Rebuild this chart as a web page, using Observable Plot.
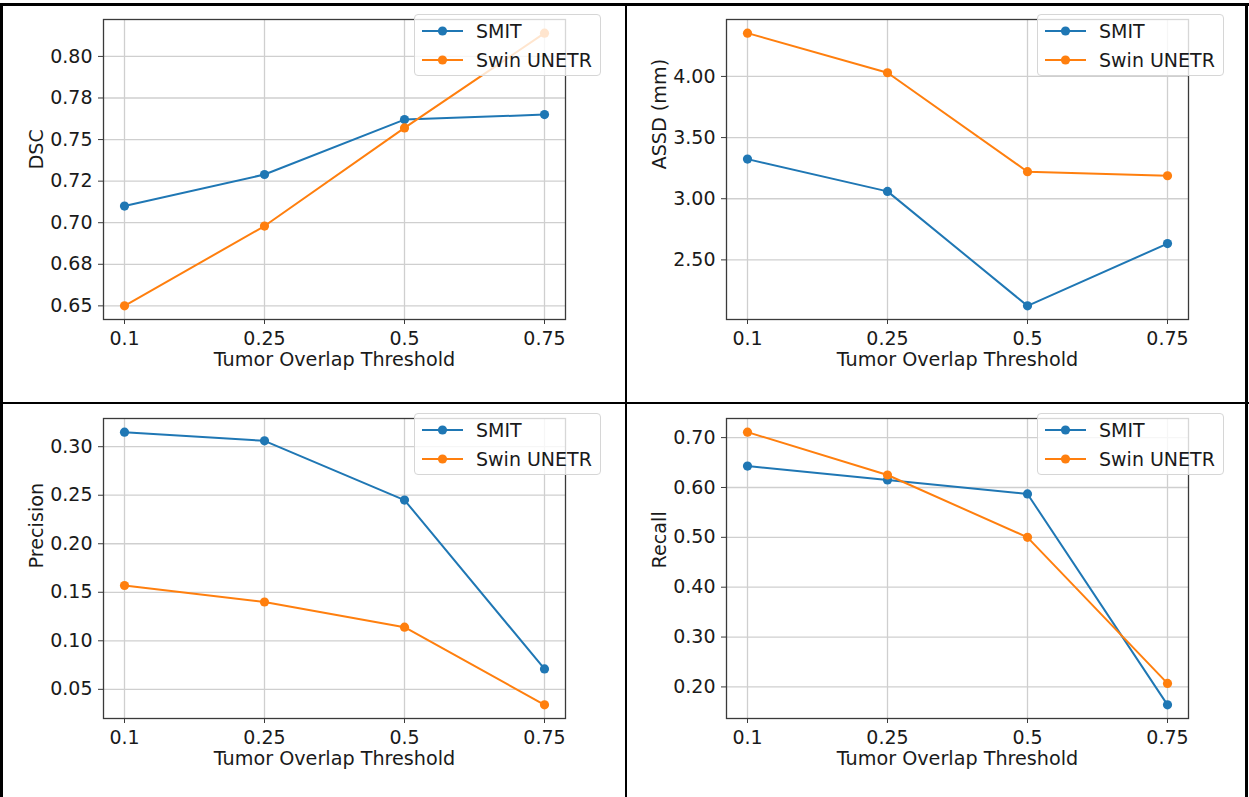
<!DOCTYPE html>
<html><head><meta charset="utf-8">
<script src="https://cdn.jsdelivr.net/npm/d3@7"></script>
<script src="https://cdn.jsdelivr.net/npm/@observablehq/plot@0.6"></script>
<style>
body{margin:0;background:#fff;}
#root{position:relative;width:1249px;height:797px;overflow:hidden;font-family:"DejaVu Sans",sans-serif;background:#fff;}
.panel{position:absolute;width:620px;height:398px;}
.panel svg{position:absolute;left:0;top:0;}
.legend{position:absolute;left:414px;top:14px;width:187px;height:62px;background:rgba(255,255,255,0.8);border:1.3px solid #d6d6d6;border-radius:4px;box-sizing:border-box;}
.legend .item{position:absolute;left:0;height:28px;width:185px;}
.legend .item svg{position:absolute;left:6px;top:0;}
.legend .item span{position:absolute;left:61px;top:0;line-height:28px;font-size:19px;color:#1a1a1a;white-space:nowrap;}
.border{position:absolute;background:#000;}
</style></head><body><div id="root"></div>
<script>
// ---- data ----
const thresholds = ["0.1", "0.25", "0.5", "0.75"];
const seriesNames = ["SMIT", "Swin UNETR"];
const seriesColors = ["#1f77b4", "#ff7f0e"];
const xLabel = "Tumor Overlap Threshold";

const dscSMIT = [0.710, 0.729, 0.762, 0.765];
const dscSwin = [0.650, 0.698, 0.757, 0.814];
const dscTicks = [0.65, 0.675, 0.70, 0.725, 0.75, 0.775, 0.80];
const dscTickLabels = ["0.65", "0.68", "0.70", "0.72", "0.75", "0.78", "0.80"];

const assdSMIT = [3.324, 3.060, 2.124, 2.633];
const assdSwin = [4.354, 4.030, 3.221, 3.188];
const assdTicks = [2.5, 3.0, 3.5, 4.0];
const assdTickLabels = ["2.50", "3.00", "3.50", "4.00"];

const precSMIT = [0.315, 0.306, 0.245, 0.071];
const precSwin = [0.157, 0.140, 0.114, 0.034];
const precTicks = [0.05, 0.10, 0.15, 0.20, 0.25, 0.30];
const precTickLabels = ["0.05", "0.10", "0.15", "0.20", "0.25", "0.30"];

const recSMIT = [0.643, 0.615, 0.587, 0.164];
const recSwin = [0.711, 0.625, 0.500, 0.207];
const recTicks = [0.2, 0.3, 0.4, 0.5, 0.6, 0.7];
const recTickLabels = ["0.20", "0.30", "0.40", "0.50", "0.60", "0.70"];

// ---- layout ----
const root = document.getElementById("root");
function border(l, t, w, h) {
  const d = document.createElement("div");
  d.className = "border";
  Object.assign(d.style, {left: l + "px", top: t + "px", width: w + "px", height: h + "px"});
  root.appendChild(d);
}

function panel(yLabel, smit, swin, ticks, tickLabels, left, top) {
  const data = thresholds.flatMap((t, i) => [
    {t, v: smit[i], s: seriesNames[0]},
    {t, v: swin[i], s: seriesNames[1]}
  ]);
  const all = smit.concat(swin);
  const lo = d3.min(all), hi = d3.max(all), m = (hi - lo) * 0.05;
  const fontStyle = {fontFamily: "DejaVu Sans", fontSize: 19.2, fill: "#1a1a1a"};
  const seriesMarks = seriesNames.flatMap((s, k) => [
    Plot.line(data.filter(d => d.s === s), {x: "t", y: "v", stroke: seriesColors[k], strokeWidth: 2}),
    Plot.dot(data.filter(d => d.s === s), {x: "t", y: "v", fill: seriesColors[k], r: 4.6})
  ]);
  const chart = Plot.plot({
    width: 620, height: 398,
    marginLeft: 103, marginRight: 55, marginTop: 19, marginBottom: 79,
    style: {fontFamily: "DejaVu Sans", fontSize: "19px", color: "#1a1a1a", background: "transparent", overflow: "visible"},
    x: {type: "point", domain: thresholds, padding: 0.15},
    y: {domain: [lo - m, hi + m]},
    marks: [
      Plot.gridX(thresholds, {stroke: "#cfcfcf", strokeOpacity: 1, strokeWidth: 1.3}),
      Plot.gridY(ticks, {stroke: "#cfcfcf", strokeOpacity: 1, strokeWidth: 1.3}),
      Plot.frame({stroke: "#3a3a3a", strokeWidth: 1.3}),
      Plot.axisX(thresholds, {tickSize: 5, tickPadding: 7, label: null, fontSize: 19, stroke: "#3a3a3a"}),
      Plot.axisY(ticks, {tickSize: 5, tickPadding: 6, label: null, fontSize: 19, stroke: "#3a3a3a",
        tickFormat: d => tickLabels[ticks.indexOf(d)]}),
      ...seriesMarks,
      Plot.text([xLabel], {frameAnchor: "bottom", dy: 46, text: d => d, ...fontStyle}),
      Plot.text([yLabel], {frameAnchor: "left", dx: -67, rotate: -90, text: d => d, ...fontStyle})
    ]
  });
  const p = document.createElement("div");
  p.className = "panel";
  p.style.left = left + "px";
  p.style.top = top + "px";
  p.appendChild(chart);
  const lg = document.createElement("div");
  lg.className = "legend";
  seriesNames.forEach((s, k) => {
    const it = document.createElement("div");
    it.className = "item";
    it.style.top = (k === 0 ? 2 : 31) + "px";
    it.innerHTML = `<svg width="44" height="28"><line x1="1" x2="42" y1="14" y2="14" stroke="${seriesColors[k]}" stroke-width="2"/><circle cx="21.5" cy="14" r="4.6" fill="${seriesColors[k]}"/></svg><span>${s}</span>`;
    lg.appendChild(it);
  });
  p.appendChild(lg);
  root.appendChild(p);
}

panel("DSC", dscSMIT, dscSwin, dscTicks, dscTickLabels, 0, 0);
panel("ASSD (mm)", assdSMIT, assdSwin, assdTicks, assdTickLabels, 623, 0);
panel("Precision", precSMIT, precSwin, precTicks, precTickLabels, 0, 399);
panel("Recall", recSMIT, recSwin, recTicks, recTickLabels, 623, 399);

// table borders
border(0, 3, 1249, 3);
border(0, 3, 3, 794);
border(625, 3, 2, 794);
border(1245, 3, 3, 794);
border(0, 402, 1249, 2);
</script>
</body></html>
